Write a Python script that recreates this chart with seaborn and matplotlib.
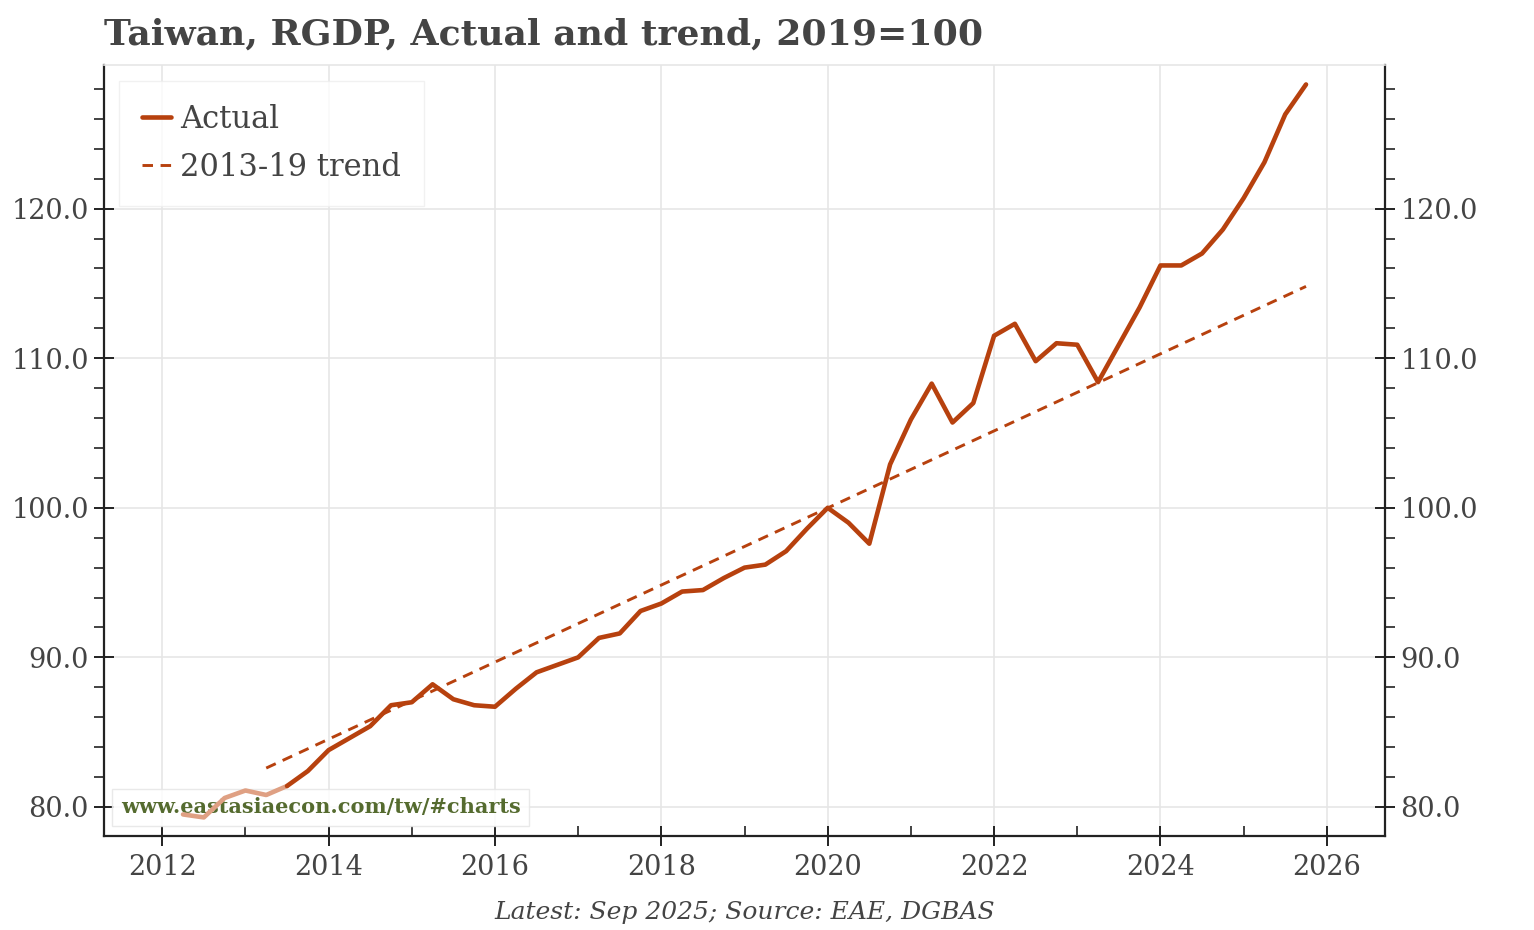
import pandas as pd
import seaborn as sns
import matplotlib.pyplot as plt
from matplotlib.ticker import MultipleLocator, FormatStrFormatter
from matplotlib.lines import Line2D

# quarterly data, x = year + month/12 (quarter-end month)
quarters = [2012.25, 2012.5, 2012.75, 2013.0, 2013.25, 2013.5, 2013.75, 2014.0,
            2014.25, 2014.5, 2014.75, 2015.0, 2015.25, 2015.5, 2015.75, 2016.0,
            2016.25, 2016.5, 2016.75, 2017.0, 2017.25, 2017.5, 2017.75, 2018.0,
            2018.25, 2018.5, 2018.75, 2019.0, 2019.25, 2019.5, 2019.75, 2020.0,
            2020.25, 2020.5, 2020.75, 2021.0, 2021.25, 2021.5, 2021.75, 2022.0,
            2022.25, 2022.5, 2022.75, 2023.0, 2023.25, 2023.5, 2023.75, 2024.0,
            2024.25, 2024.5, 2024.75, 2025.0, 2025.25, 2025.5, 2025.75]
rgdp = [79.5, 79.3, 80.6, 81.1, 80.8, 81.4, 82.4, 83.8,
        84.6, 85.4, 86.8, 87.0, 88.2, 87.2, 86.8, 86.7,
        87.9, 89.0, 89.5, 90.0, 91.3, 91.6, 93.1, 93.6,
        94.4, 94.5, 95.3, 96.0, 96.2, 97.1, 98.6, 100.0,
        99.0, 97.6, 102.9, 105.9, 108.3, 105.7, 107.0, 111.5,
        112.3, 109.8, 111.0, 110.9, 108.4, 110.9, 113.4, 116.2,
        116.2, 117.0, 118.6, 120.7, 123.1, 126.3, 128.3]
n_faded = 6  # early points drawn in lighter colour

trend_x = [2013.25, 2025.75]
trend_y = [82.6, 114.8]

df = pd.DataFrame({"date": quarters, "rgdp": rgdp})
trend_df = pd.DataFrame({"date": trend_x, "trend": trend_y})

sns.set_theme(style="whitegrid")
plt.rcParams['font.family'] = ['DejaVu Serif']
txt = "#444444"
red = "#B7410E"
faded = "#DFA083"
dash = (0, (3.6, 2.6))

fig = plt.figure(figsize=(15.34, 9.30), dpi=100)
ax = fig.add_axes([0.0678, 0.1011, 0.8351, 0.8290])

sns.lineplot(data=df.iloc[:n_faded], x="date", y="rgdp", color=faded, lw=3.3, ax=ax)
sns.lineplot(data=df.iloc[n_faded - 1:], x="date", y="rgdp", color=red, lw=3.3, ax=ax)
sns.lineplot(data=trend_df, x="date", y="trend", color=red, lw=2.1, ax=ax,
             linestyle=dash)

ax.set_xlim(2011.3, 2026.7)
ax.set_ylim(78.06, 129.6)
ax.set_xlabel("")
ax.set_ylabel("")

ax.xaxis.set_major_locator(MultipleLocator(2))
ax.xaxis.set_minor_locator(MultipleLocator(1))
ax.yaxis.set_major_locator(MultipleLocator(10))
ax.yaxis.set_minor_locator(MultipleLocator(2))
ax.yaxis.set_major_formatter(FormatStrFormatter('%.1f'))
ax.xaxis.set_major_formatter(FormatStrFormatter('%d'))

ax.grid(True, which="major", color="#e6e6e6", lw=1.2)
ax.grid(False, which="minor")

for side in ["left", "bottom", "right"]:
    ax.spines[side].set_color("#222222")
    ax.spines[side].set_linewidth(1.6)
ax.spines["top"].set_color("#e6e6e6")
ax.spines["top"].set_linewidth(1.2)

ax.tick_params(axis="y", which="major", direction="inout", length=14, width=1.4,
               color="#222222", left=True, right=True, labelleft=True, labelright=True,
               labelsize=19.5, labelcolor=txt, pad=4)
ax.tick_params(axis="y", which="minor", direction="out", length=7, width=1.2,
               color="#222222", left=True, right=True)
ax.tick_params(axis="x", which="major", direction="inout", length=14, width=1.4,
               color="#222222", bottom=True, labelsize=19.5, labelcolor=txt, pad=6)
ax.tick_params(axis="x", which="minor", direction="in", length=7, width=1.2,
               color="#222222", bottom=True)

handles = [Line2D([], [], color=red, lw=3.3),
           Line2D([], [], color=red, lw=2.1, linestyle=dash)]
leg = ax.legend(handles, ["Actual", "2013-19 trend"], loc="upper left",
                bbox_to_anchor=(0.0117, 0.979), borderaxespad=0, fontsize=22,
                frameon=True, fancybox=False, handlelength=0.95, handletextpad=0.3,
                borderpad=0.75, labelspacing=0.55)
leg.get_frame().set_edgecolor("#eeeeee")
leg.get_frame().set_linewidth(1.0)
for t in leg.get_texts():
    t.set_color(txt)

ax.text(0.013, 0.037, "www.eastasiaecon.com/tw/#charts", transform=ax.transAxes,
        fontsize=15, fontweight="bold", color="#556B2F", ha="left", va="center",
        zorder=1,
        bbox=dict(boxstyle="square,pad=0.42", facecolor="white", edgecolor="#e6e6e6",
                  alpha=0.85))

fig.text(0.0678, 0.952, "Taiwan, RGDP, Actual and trend, 2019=100", fontsize=26,
         fontweight="bold", color=txt, ha="left", va="baseline")
fig.text(0.4853, 0.012, "Latest: Sep 2025; Source: EAE, DGBAS", fontsize=18,
         style="italic", color=txt, ha="center", va="baseline")

plt.savefig("out.png", dpi=100)
